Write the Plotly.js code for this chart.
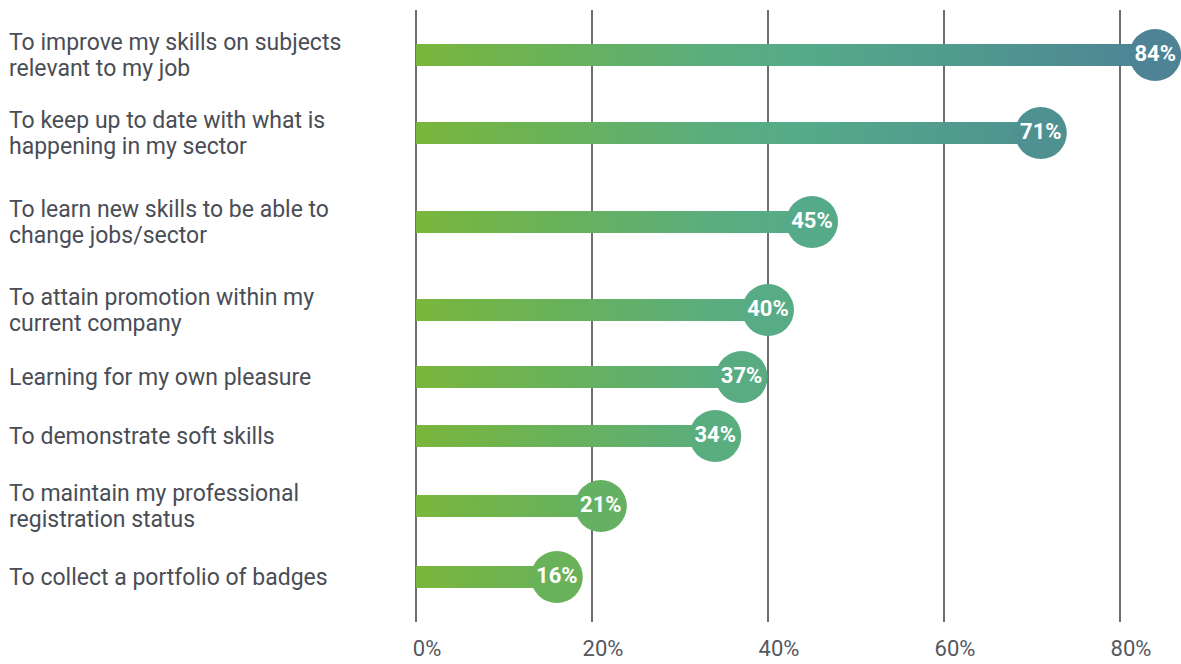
<!DOCTYPE html>
<html>
<head>
<meta charset="utf-8">
<script src="https://cdn.plot.ly/plotly-3.0.1.min.js"></script>
<style>html,body{margin:0;padding:0;background:#fff;}#chart{width:1181px;height:664px;}</style>
</head>
<body>
<div id="chart"></div>
<script>
// ---- data ----
var categories = [
  "To improve my skills on subjects<br>relevant to my job",
  "To keep up to date with what is<br>happening in my sector",
  "To learn new skills to be able to<br>change jobs/sector",
  "To attain promotion within my<br>current company",
  "Learning for my own pleasure",
  "To demonstrate soft skills",
  "To maintain my professional<br>registration status",
  "To collect a portfolio of badges"
];
var values = [84, 71, 45, 40, 37, 34, 21, 16];
var tickValues = [0, 20, 40, 60, 80];
var tickLabels = ["0%", "20%", "40%", "60%", "80%"];

// ---- layout helpers (row centres on a reversed pixel-like y scale) ----
var rowY = [45, 123, 212, 300, 367, 426, 496, 567];
var halfBar = 11;
var lineGap = 26;
var colorscale = [
  [0, "#7ab63c"], [0.19, "#69b25a"], [0.405, "#5aad7f"],
  [0.536, "#55aa8a"], [0.845, "#4f9191"], [1, "#4e8396"]
];
var cmax = Math.max.apply(null, values);
var FONT = "Roboto, 'Open Sans', sans-serif";

var traces = [];
values.forEach(function (v, i) {
  var y0 = rowY[i] - halfBar, y1 = rowY[i] + halfBar;
  traces.push({
    type: "scatter", mode: "lines",
    x: [0, v, v, 0, 0], y: [y0, y0, y1, y1, y0],
    fill: "toself",
    fillgradient: { type: "horizontal", colorscale: colorscale, start: 0, stop: cmax },
    line: { width: 0 },
    hoverinfo: "skip", showlegend: false
  });
});
traces.push({
  type: "scatter", mode: "markers+text",
  x: values, y: rowY,
  text: values.map(function (v) { return v + "%"; }),
  textposition: "middle center",
  textfont: { family: FONT, size: 22, color: "#ffffff", weight: 700 },
  marker: { size: 52, color: values, colorscale: colorscale, cmin: 0, cmax: cmax, line: { width: 0 } },
  cliponaxis: false, hoverinfo: "skip", showlegend: false
});

var annotations = [];
categories.forEach(function (c, i) {
  var lines = c.split("<br>");
  lines.forEach(function (ln, k) {
    annotations.push({
      xref: "paper", yref: "y", x: 0, y: rowY[i],
      xanchor: "left", yanchor: "middle", xshift: -409,
      yshift: -(k - (lines.length - 1) / 2) * lineGap,
      align: "left", showarrow: false, text: ln,
      font: { family: FONT, size: 23, color: "#4a4d55" }
    });
  });
});

var layout = {
  width: 1181, height: 664,
  margin: { l: 416, r: 17, t: 10, b: 42 },
  paper_bgcolor: "#ffffff", plot_bgcolor: "#ffffff",
  showlegend: false,
  xaxis: {
    range: [0, 85], tickvals: tickValues, ticktext: tickLabels,
    showgrid: true, gridcolor: "#6d6e71", gridwidth: 1.5,
    zeroline: true, zerolinecolor: "#6d6e71", zerolinewidth: 1.5,
    showline: false, ticks: "",
    ticklabelshift: 11, ticklabelstandoff: 11,
    tickfont: { family: FONT, size: 22, color: "#55585e" },
    fixedrange: true
  },
  yaxis: {
    range: [612, 0], showgrid: false, zeroline: false, showline: false,
    showticklabels: false, ticks: "", fixedrange: true
  },
  annotations: annotations
};

Plotly.newPlot("chart", traces, layout, { displayModeBar: false, staticPlot: true });
</script>
</body>
</html>
